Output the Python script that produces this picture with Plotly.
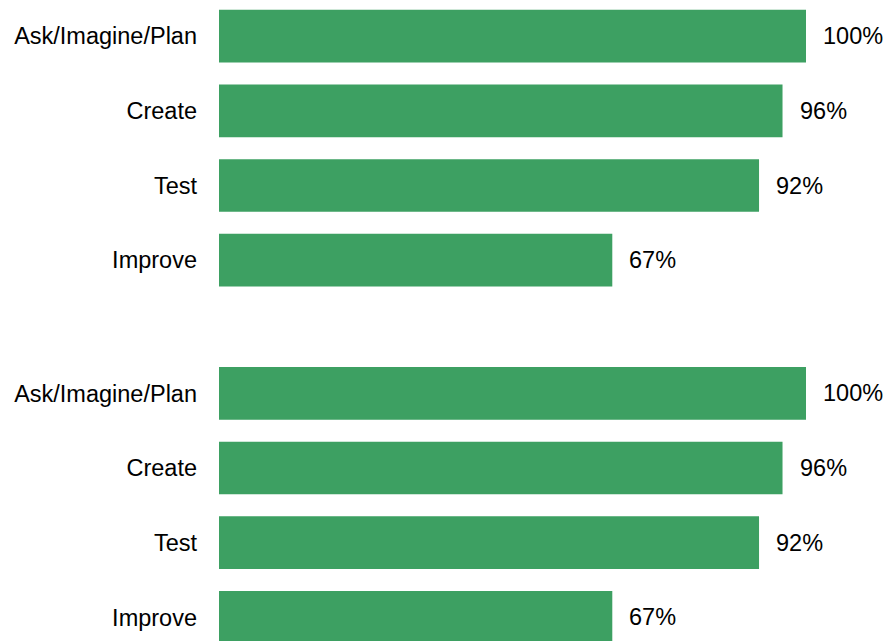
import plotly.graph_objects as go
from plotly.subplots import make_subplots

# Survey results: share of participants completing each design stage
stages = ["Ask/Imagine/Plan", "Create", "Test", "Improve"]
panel_a_pct = [100, 96, 92, 67]
panel_b_pct = [100, 96, 92, 67]

BAR_COLOR = "#3DA062"
FONT = "Liberation Sans, Arial, sans-serif"
FONT_SIZE = 23.5

W, H = 887, 641
LEFT = 219            # pixel where the value axis starts
PX_PER_UNIT = 5.87    # horizontal scale
STEP = 74.7           # pixel distance between category rows

fig = make_subplots(rows=2, cols=1, vertical_spacing=0)

for row, values in ((1, panel_a_pct), (2, panel_b_pct)):
    fig.add_trace(
        go.Bar(
            x=values,
            y=stages,
            orientation="h",
            marker=dict(color=BAR_COLOR, line=dict(width=0)),
            width=0.705,
            hoverinfo="skip",
            showlegend=False,
        ),
        row=row,
        col=1,
    )
    xref = "x" if row == 1 else "x2"
    yref = "y" if row == 1 else "y2"
    for stage, v in zip(stages, values):
        fig.add_annotation(
            x=v,
            y=stage,
            xref=xref,
            yref=yref,
            text=f"{v}%",
            showarrow=False,
            xanchor="left",
            yanchor="middle",
            xshift=15,
            font=dict(family=FONT, size=FONT_SIZE, color="#000000"),
        )


def cat_range(px_top, px_bottom, first_center):
    """Category-index range for a panel spanning px_top..px_bottom."""
    top = (px_top - first_center) / STEP
    bottom = (px_bottom - first_center) / STEP
    return [bottom, top]


# Panel extents in pixels
p1_top, p1_bot = 0, 305
p2_top, p2_bot = 315, H

x_max = (W - LEFT) / PX_PER_UNIT

axis_common = dict(
    showgrid=False,
    zeroline=False,
    showline=False,
    ticks="",
)

fig.update_xaxes(range=[0, x_max], showticklabels=False, **axis_common)
fig.update_yaxes(
    type="category",
    categoryorder="array",
    categoryarray=stages,
    ticklabelstandoff=21,
    tickfont=dict(family=FONT, size=FONT_SIZE, color="#000000"),
    **axis_common,
)

fig.update_layout(
    xaxis=dict(domain=[0, 1]),
    xaxis2=dict(domain=[0, 1]),
    yaxis=dict(
        domain=[1 - p1_bot / H, 1 - p1_top / H],
        range=cat_range(p1_top, p1_bot, 36.1),
    ),
    yaxis2=dict(
        domain=[1 - p2_bot / H, 1 - p2_top / H],
        range=cat_range(p2_top, p2_bot, 393.3),
    ),
    width=W,
    height=H,
    margin=dict(l=LEFT, r=0, t=0, b=0),
    paper_bgcolor="#FFFFFF",
    plot_bgcolor="#FFFFFF",
    font=dict(family=FONT, size=FONT_SIZE, color="#000000"),
    bargap=0.3,
)

fig.write_html("out.html")
